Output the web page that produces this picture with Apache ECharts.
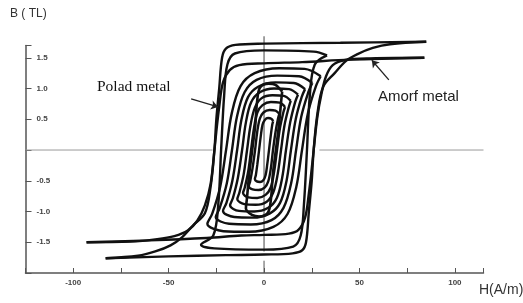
<!DOCTYPE html>
<html>
<head>
<meta charset="utf-8">
<script src="https://cdn.jsdelivr.net/npm/echarts@6/dist/echarts.min.js"></script>
<style>
  html, body { margin: 0; padding: 0; background: #fff; }
  #chart { width: 523px; height: 303px; }
</style>
</head>
<body>
<div id="chart"></div>
<script>
// tick labels
const xTickLabels = [-100, -50, 0, 50, 100]
const yTickLabels = [-1.5, -1.0, -0.5, 0.5, 1.0, 1.5]

// major loop with the high saturation tails (B ~ 1.75)
const loopBDown = [[85, 1.76], [40, 1.745], [0, 1.73], [-15, 1.71], [-20, 1.65], [-22, 1.5], [-23.5, 1.0], [-25, 0.5], [-26, 0], [-28, -0.6], [-31, -1.03], [-37, -1.22], [-43, -1.42], [-49, -1.55], [-57, -1.65], [-66, -1.72], [-83, -1.76]]
const loopBUp = [[-83, -1.76], [-50, -1.73], [-20, -1.71], [0, -1.70], [15, -1.68], [20, -1.63], [22, -1.5], [23.5, -1.0], [25, -0.5], [26, 0], [28, 0.6], [31, 1.03], [37, 1.25], [43, 1.45], [49, 1.56], [57, 1.66], [66, 1.72], [85, 1.76]]

// loop with the lower tails (B ~ 1.5), the "Amorf metal" one
const loopADown = [[84, 1.5], [45, 1.47], [20, 1.43], [0, 1.41], [-13, 1.38], [-18, 1.3], [-21.5, 1.1], [-23.5, 0.7], [-25, 0.3], [-26, 0], [-28, -0.55], [-31, -0.9], [-35, -1.15], [-40, -1.31], [-47, -1.4], [-56, -1.45], [-70, -1.49], [-93, -1.5]]
const loopAUp = [[-93, -1.5], [-60, -1.47], [-30, -1.43], [-12, -1.39], [0, -1.38], [13, -1.36], [18, -1.3], [21.5, -1.1], [23.5, -0.7], [25, -0.3], [26, 0], [28, 0.55], [30, 0.9], [32.5, 1.2], [36, 1.38], [42, 1.46], [56, 1.49], [84, 1.5]]

// nested minor loops ("Polad metal"), outer to inner
const steel1 = [[33, 1.54], [26, 1.60], [0, 1.62], [-15.3, 1.57], [-19.2, 1.39], [-20.9, 0.89], [-22.5, 0], [-24.0, -0.89], [-26.6, -1.39], [-33, -1.54], [-26, -1.60], [0, -1.62], [15.3, -1.57], [19.2, -1.39], [20.9, -0.89], [22.5, 0], [24.0, 0.89], [26.6, 1.39], [33, 1.54]]
const steel2 = [[29.7, 1.20], [21.3, 1.32], [7.9, 1.33], [-4.9, 1.25], [-12.3, 1.04], [-16.9, 0.60], [-19.9, 0], [-23.0, -0.60], [-27.2, -1.04], [-29.7, -1.20], [-21.3, -1.32], [-7.9, -1.33], [4.9, -1.25], [12.3, -1.04], [16.9, -0.60], [19.9, 0], [23.0, 0.60], [27.2, 1.04], [29.7, 1.20]]
const steel3 = [[25.3, 1.09], [18.3, 1.20], [6.9, 1.21], [-3.9, 1.14], [-10.2, 0.94], [-14.2, 0.54], [-16.8, 0], [-19.5, -0.54], [-23.2, -0.94], [-25.3, -1.09], [-18.3, -1.20], [-6.9, -1.21], [3.9, -1.14], [10.2, -0.94], [14.2, -0.54], [16.8, 0], [19.5, 0.54], [23.2, 0.94], [25.3, 1.09]]
const steel4 = [[21.5, 0.99], [15.6, 1.09], [6.0, 1.10], [-3.1, 1.03], [-8.4, 0.86], [-11.8, 0.50], [-14.1, 0], [-16.6, -0.50], [-19.7, -0.86], [-21.5, -0.99], [-15.6, -1.09], [-6.0, -1.10], [3.1, -1.03], [8.4, -0.86], [11.8, -0.50], [14.1, 0], [16.6, 0.50], [19.7, 0.86], [21.5, 0.99]]
const steel5 = [[17.8, 0.90], [13.1, 0.99], [5.2, 1.00], [-2.2, 0.94], [-6.7, 0.78], [-9.5, 0.45], [-11.5, 0], [-13.7, -0.45], [-16.3, -0.78], [-17.8, -0.90], [-13.1, -0.99], [-5.2, -1.00], [2.2, -0.94], [6.7, -0.78], [9.5, -0.45], [11.5, 0], [13.7, 0.45], [16.3, 0.78], [17.8, 0.90]]
const steel6 = [[14.0, 0.80], [10.3, 0.88], [4.4, 0.89], [-1.4, 0.84], [-4.8, 0.69], [-7.1, 0.40], [-8.9, 0], [-10.7, -0.40], [-12.9, -0.69], [-14.0, -0.80], [-10.3, -0.88], [-4.4, -0.89], [1.4, -0.84], [4.8, -0.69], [7.1, -0.40], [8.9, 0], [10.7, 0.40], [12.9, 0.69], [14.0, 0.80]]
const steel7 = [[11.0, 0.70], [8.2, 0.77], [3.6, 0.78], [-0.8, 0.73], [-3.5, 0.61], [-5.3, 0.35], [-6.8, 0], [-8.3, -0.35], [-10.1, -0.61], [-11.0, -0.70], [-8.2, -0.77], [-3.6, -0.78], [0.8, -0.73], [3.5, -0.61], [5.3, -0.35], [6.8, 0], [8.3, 0.35], [10.1, 0.61], [11.0, 0.70]]
const steel8 = [[8.0, 0.59], [6.0, 0.64], [2.9, 0.65], [-0.3, 0.61], [-2.2, 0.51], [-3.6, 0.29], [-4.7, 0], [-6.0, -0.29], [-7.3, -0.51], [-8.0, -0.59], [-6.0, -0.64], [-2.9, -0.65], [0.3, -0.61], [2.2, -0.51], [3.6, -0.29], [4.7, 0], [6.0, 0.29], [7.3, 0.51], [8.0, 0.59]]
const steel9 = [[4.8, 0.47], [3.8, 0.51], [2.1, 0.52], [0.4, 0.49], [-0.8, 0.41], [-1.7, 0.23], [-2.6, 0], [-3.5, -0.23], [-4.3, -0.41], [-4.8, -0.47], [-3.8, -0.51], [-2.1, -0.52], [-0.4, -0.49], [0.8, -0.41], [1.7, -0.23], [2.6, 0], [3.5, 0.23], [4.3, 0.41], [4.8, 0.47]]
// tall narrow loop that makes the dark bars in the middle
const core = [[9.5, 0.95], [6, 1.06], [2.5, 1.08], [-2, 1.02], [-3.6, 0.8], [-4.6, 0.4], [-6.2, 0], [-7.8, -0.4], [-9, -0.8], [-9.5, -0.95], [-6, -1.06], [-2.5, -1.08], [2, -1.02], [3.6, -0.8], [4.6, -0.4], [6.2, 0], [7.8, 0.4], [9, 0.8], [9.5, 0.95]]

// thin reference lines (B = 0 and H = 0)
const zeroLineLeft = [[-125, 0], [-27, 0]]
const zeroLineRight = [[29, 0], [115, 0]]
const hZeroLine = [[0, 1.85], [0, -1.65]]
const hZeroTick = [[0, -1.8], [0, -2.0]]

// arrows from the labels to the curves
const poladArrow = [[-38.2, 0.83], [-24.1, 0.70]]
const amorfArrow = [[65.4, 1.14], [56.5, 1.46]]

const chart = echarts.init(document.getElementById('chart'))

function curve(data, width) {
  return {
    type: 'line',
    data: data,
    symbol: 'none',
    smooth: 0.35,
    clip: false,
    silent: true,
    lineStyle: { color: '#111', width: width || 2.4 },
    z: 3
  }
}

function thin(data, color) {
  return {
    type: 'line',
    data: data,
    symbol: 'none',
    clip: false,
    silent: true,
    lineStyle: { color: color, width: 1 },
    z: 2
  }
}

function arrow(pts) {
  return {
    type: 'line',
    data: [],
    silent: true,
    markLine: {
      silent: true,
      symbol: ['none', 'arrow'],
      symbolSize: 7,
      label: { show: false },
      lineStyle: { color: '#222', width: 1.3, type: 'solid' },
      data: [[{ coord: pts[0] }, { coord: pts[1] }]]
    }
  }
}

const steelLoops = [steel1, steel2, steel3, steel4, steel5, steel6, steel7, steel8, steel9]

chart.setOption({
  animation: false,
  backgroundColor: '#fff',
  grid: {
    left: 25.5,
    right: 39.5,
    top: 45.5,
    bottom: 30,
    containLabel: false,
    outerBoundsMode: 'none'
  },
  xAxis: {
    type: 'value',
    min: -125,
    max: 115,
    interval: 25,
    splitLine: { show: false },
    axisLine: { onZero: false, lineStyle: { color: '#555', width: 1.5 } },
    axisTick: { inside: true, length: 5, lineStyle: { color: '#555', width: 1 } },
    axisLabel: {
      margin: 6,
      fontSize: 8,
      fontWeight: 'bold',
      color: '#444',
      fontFamily: 'Liberation Sans',
      formatter: v => (xTickLabels.indexOf(v) >= 0 ? String(v) : '')
    }
  },
  yAxis: {
    type: 'value',
    min: -2,
    max: 1.7,
    interval: 0.5,
    splitLine: { show: false },
    axisLine: { onZero: false, lineStyle: { color: '#555', width: 1.5 } },
    axisTick: { inside: true, length: 6, lineStyle: { color: '#555', width: 1 } },
    axisLabel: {
      inside: true,
      margin: 11,
      fontSize: 8,
      fontWeight: 'bold',
      color: '#444',
      fontFamily: 'Liberation Sans',
      formatter: v => {
        const hit = yTickLabels.find(t => Math.abs(t - v) < 1e-6)
        return hit === undefined ? '' : hit.toFixed(1)
      }
    }
  },
  graphic: [
    { type: 'text', left: 10, top: 8, style: { text: 'B ( TL)', fontSize: 12, fill: '#333', fontFamily: 'Liberation Sans' } },
    { type: 'text', left: 479, top: 283, style: { text: 'H(A/m)', fontSize: 14, fill: '#333', fontFamily: 'Liberation Sans' } },
    { type: 'text', left: 97, top: 79, style: { text: 'Polad metal', fontSize: 15.5, fill: '#111', fontFamily: 'Liberation Serif' } },
    { type: 'text', left: 378, top: 89, style: { text: 'Amorf metal', fontSize: 15, fill: '#222', fontFamily: 'Liberation Sans' } }
  ],
  series: [
    thin(zeroLineLeft, '#999'),
    thin(zeroLineRight, '#999'),
    thin(hZeroLine, '#444'),
    thin(hZeroTick, '#555'),
    curve(loopBDown),
    curve(loopBUp),
    curve(loopADown),
    curve(loopAUp)
  ].concat(steelLoops.map(d => curve(d)))
    .concat([curve(core, 2.6), arrow(poladArrow), arrow(amorfArrow)])
})
</script>
</body>
</html>
